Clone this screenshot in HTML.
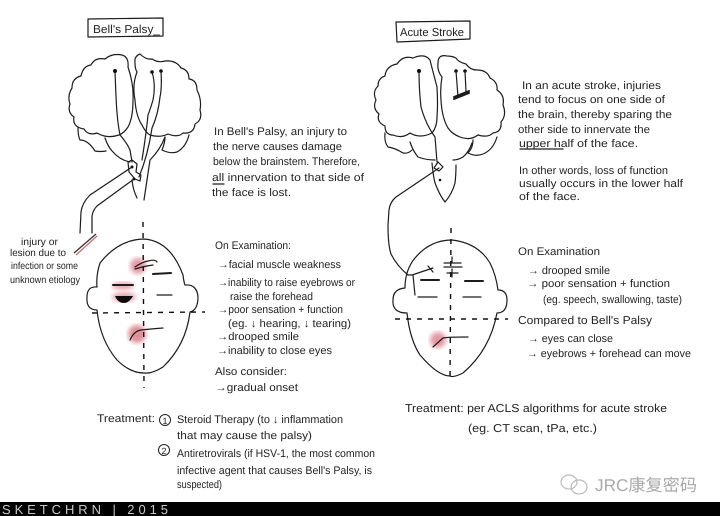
<!DOCTYPE html>
<html><head><meta charset="utf-8"><style>
html,body{margin:0;padding:0;background:#fff}
svg{display:block;font-size:11px}
text{font-family:"Liberation Sans","Noto Sans CJK SC",sans-serif;fill:#222;text-rendering:geometricPrecision}
.l{fill:none;stroke:#1c1c1c;stroke-width:1.2;stroke-linecap:round;stroke-linejoin:round}
.d{fill:none;stroke:#111;stroke-width:1.4;stroke-dasharray:5 6}
.t{fill:none;stroke:#1a1a1a;stroke-width:2;stroke-linecap:round}
</style></head><body>
<svg width="720" height="516" viewBox="0 0 720 516" xmlns="http://www.w3.org/2000/svg">
<defs><filter id="b"><feGaussianBlur stdDeviation="2.5"/></filter><filter id="s"><feGaussianBlur stdDeviation="0.3"/></filter></defs>
<rect width="720" height="516" fill="#fff"/>
<g filter="url(#s)">

<!-- LEFT -->
<path class="l" d="M88 19L163 18L163 36L88 37Z"/>
<text x="93" y="33" font-size="11.5" textLength="67" lengthAdjust="spacingAndGlyphs">Bell's Palsy_</text>
<path class="l" d="M119 135Q107 139 97 133Q88 136 84 129Q72 127 74 117Q67 112 70 104Q67 96 72 88Q72 78 81 76Q83 66 91 65Q95 57 105 59Q112 53 122 55Q129 57 128 67Q134 85 133 100Q133 118 128 127Q124 133 119 135Z"/>
<path class="l" d="M140 54Q134 56 135 63Q135 69 137 72Q132 85 135 100Q136 116 142 125Q146 133 150 135Q160 138 168 134Q178 138 183 133Q194 134 195 124Q203 120 200 110Q202 100 197 90Q197 80 189 79Q189 70 181 68Q176 60 165 61Q158 63 152 59Q146 60 140 54Z"/>
<path class="l" d="M78 128Q78 136 80 140Q88 140 95 151Q100 152 106 151"/>
<path class="l" d="M165 137Q165 143 162 150Q170 154 177 152Q186 147 189 135"/>
<path class="l" d="M105 138Q108 147 113 152Q120 160 130 162"/>
<path class="l" d="M165 137Q160 150 150 160Q147 180 144 200"/>
<path class="l" d="M132 180Q133 190 137 198"/>
<path class="l" d="M128 162L132 160L137 164L136 172L141 175L140 181L135 179L129 172Z"/>
<path class="l" d="M115 71Q116 100 117 113Q118 125 120 135Q127 143 130 150L132 162"/>
<path class="l" d="M152 72Q156 85 153 100Q150 110 148 115Q146 135 142 160"/>
<path class="l" d="M161 71Q162 88 160 97Q158 115 152 128Q148 155 139 177"/>
<circle cx="115" cy="71" r="2" fill="#111"/><circle cx="152" cy="72" r="1.8" fill="#111"/><circle cx="161" cy="71" r="1.8" fill="#111"/>
<circle cx="132" cy="167" r="1.5" fill="#111"/><circle cx="134" cy="179" r="1.5" fill="#111"/>
<path class="l" d="M132 167L90 195Q82 203 81 212L80 233"/>
<path class="l" d="M134 179Q112 195 97 206Q93 210 92 216L92 233"/>
<path d="M74 253L96 234" stroke="#333" stroke-width="1.3" fill="none"/><path d="M76 255L97 236" stroke="#c77" stroke-width="1.5" fill="none"/>

<text x="21" y="245" font-size="10" textLength="37" lengthAdjust="spacingAndGlyphs">injury or</text>
<text x="10" y="256" font-size="10" textLength="56" lengthAdjust="spacingAndGlyphs">lesion due to</text>
<text x="11" y="269" font-size="10" textLength="67" lengthAdjust="spacingAndGlyphs">infection or some</text>
<text x="10" y="283" font-size="10" textLength="70" lengthAdjust="spacingAndGlyphs">unknown etiology</text>

<circle cx="138" cy="266" r="8" fill="#e39aa2" filter="url(#b)"/>
<circle cx="137" cy="334" r="9" fill="#e08f98" filter="url(#b)"/>
<ellipse cx="123" cy="286" rx="11" ry="4" fill="#e9a9b0" filter="url(#b)"/>
<ellipse cx="124" cy="297" rx="12" ry="5" fill="#e9a9b0" filter="url(#b)"/>
<path class="l" d="M143 239Q170 240 183 275Q184 283 185 285Q197 284 198 297Q198 310 190 312Q186 345 163 367Q152 374 144 373Q130 373 117 360Q100 340 97 310Q86 310 87 297Q87 286 97 287Q96 275 100 263Q118 240 143 239Z"/>
<path class="d" d="M92 313L205 312"/>
<path class="d" d="M143 222L144 388"/>
<path class="l" d="M135 267Q142 262 148 261Q155 259 157 262"/>
<path class="l" d="M135 269Q145 266 153 265"/>
<path class="t" d="M153 274L171 273"/>
<path class="t" d="M113 285L133 285" stroke="#522"/>
<path d="M115 296L133 296Q129 303 124 303Q118 303 115 296Z" fill="#0c0c0c"/>
<path class="l" d="M157 295L172 295"/>
<path class="l" stroke-width="1.6" d="M130 340Q134 331 141 330Q150 329 163 328"/>

<text x="214" y="135" textLength="133" lengthAdjust="spacingAndGlyphs">In Bell's Palsy, an injury to</text>
<text x="213" y="150" textLength="129" lengthAdjust="spacingAndGlyphs">the nerve causes damage</text>
<text x="213" y="165" textLength="147" lengthAdjust="spacingAndGlyphs">below the brainstem. Therefore,</text>
<text x="212" y="181" textLength="152" lengthAdjust="spacingAndGlyphs">all innervation to that side of</text>
<text x="212" y="196" textLength="79" lengthAdjust="spacingAndGlyphs">the face is lost.</text>
<path class="l" d="M213 184L224 184" stroke-width=".8"/>

<text x="215" y="249" textLength="76" lengthAdjust="spacingAndGlyphs">On Examination:</text>
<text x="218" y="268" textLength="123" lengthAdjust="spacingAndGlyphs">→facial muscle weakness</text>
<text x="218" y="286" textLength="137" lengthAdjust="spacingAndGlyphs">→inability to raise eyebrows or</text>
<text x="230" y="300" textLength="83" lengthAdjust="spacingAndGlyphs">raise the forehead</text>
<text x="218" y="313" textLength="125" lengthAdjust="spacingAndGlyphs">→poor sensation + function</text>
<text x="228" y="327" textLength="123" lengthAdjust="spacingAndGlyphs">(eg. ↓ hearing, ↓ tearing)</text>
<text x="217" y="340" textLength="82" lengthAdjust="spacingAndGlyphs">→drooped smile</text>
<text x="217" y="354" textLength="115" lengthAdjust="spacingAndGlyphs">→inability to close eyes</text>
<text x="215" y="375" textLength="72" lengthAdjust="spacingAndGlyphs">Also consider:</text>
<text x="215" y="391" textLength="83" lengthAdjust="spacingAndGlyphs">→gradual onset</text>

<text x="97" y="422" textLength="58" lengthAdjust="spacingAndGlyphs">Treatment:</text>
<circle cx="165" cy="420" r="5.5" fill="none" stroke="#222"/><text x="162.5" y="424" font-size="9">1</text>
<text x="177" y="423" textLength="166" lengthAdjust="spacingAndGlyphs">Steroid Therapy (to ↓ inflammation</text>
<text x="177" y="439" textLength="135" lengthAdjust="spacingAndGlyphs">that may cause the palsy)</text>
<circle cx="164" cy="450" r="5.5" fill="none" stroke="#222"/><text x="161.5" y="454" font-size="9">2</text>
<text x="177" y="457" textLength="198" lengthAdjust="spacingAndGlyphs">Antiretrovirals (if HSV-1, the most common</text>
<text x="177" y="474" textLength="195" lengthAdjust="spacingAndGlyphs">infective agent that causes Bell's Palsy, is</text>
<text x="177" y="488" textLength="45" lengthAdjust="spacingAndGlyphs">suspected)</text>

<!-- RIGHT -->
<path class="l" d="M396 22L470 21L470 39L397 42Z"/>
<text x="400" y="36" font-size="11.5" textLength="64" lengthAdjust="spacingAndGlyphs">Acute Stroke</text>
<path class="l" d="M432 133Q420 139 410 133Q402 139 393 135Q385 135 385 126Q376 122 379 114Q372 108 376 100Q372 92 378 86Q378 78 385 76Q386 66 397 64Q403 55 413 58Q425 53 430 60Q433 72 437 87Q438 105 437 117Q437 127 432 133Z"/>
<path class="l" d="M447 56Q438 54 438 63Q437 71 442 77Q440 88 441 100Q442 118 448 128Q452 134 460 137Q470 141 478 135Q488 138 493 133Q502 132 501 122Q507 115 503 105Q505 95 497 90Q498 82 490 78Q487 70 477 70Q470 70 466 64Q458 62 456 58Q452 56 447 56Z"/>
<path class="l" d="M385 133Q384 142 388 147Q395 148 403 153Q408 154 412 150"/>
<path class="l" d="M473 140Q473 148 468 153Q476 157 483 154Q493 150 497 137"/>
<path class="l" d="M410 142Q413 151 418 157Q426 160 435 160"/>
<path class="l" d="M472 143Q469 152 463 157Q458 160 453 160"/>
<path class="l" d="M432 163Q433 175 435 183Q440 196 445 202Q452 194 455 183Q456 175 456 165"/>
<path class="l" d="M434 168L438 162L443 167L439 171Z"/>
<path class="l" d="M419 71Q419 90 421 107Q426 125 435 137Q436 150 437 162"/>
<circle cx="419" cy="71" r="2" fill="#111"/><circle cx="456" cy="71" r="1.8" fill="#111"/><circle cx="465" cy="71" r="1.8" fill="#111"/><circle cx="440" cy="180" r="1.3" fill="#111"/>
<path class="l" d="M456 71L458 97M465 71L466 92"/>
<path class="t" d="M454 99L469 93M454 97L469 91" stroke-width="1.4"/>
<path class="l" d="M439 168L396 197Q390 202 389 210L388 225Q388 245 391 254Q397 266 408 275"/>
<path class="l" d="M408 275L412 275L433 268M413 275L415 295M428 266L433 272"/>

<circle cx="438" cy="340" r="8" fill="#e39aa2" filter="url(#b)"/>
<path class="l" d="M452 240Q478 243 490 263Q496 275 498 290Q507 290 507 300Q507 313 497 313Q490 350 463 373Q453 378 450 376Q438 376 420 355Q410 340 407 313Q392 313 393 300Q393 289 405 288Q405 270 415 258Q430 240 452 240Z"/>
<path class="d" d="M395 319L508 319"/>
<path class="d" d="M451 228L450 382"/>
<path class="l" d="M444 263L461 263M444 267L462 267M447 273L458 273M452 257L452 263M452 269L452 277"/>
<path class="t" d="M421 280L439 280M465 281L483 281"/>
<path class="l" d="M418 297L437 297M463 297L481 297"/>
<path class="l" stroke-width="1.6" d="M433 347L443 338Q448 337 468 337"/>

<text x="522" y="89" textLength="139" lengthAdjust="spacingAndGlyphs">In an acute stroke, injuries</text>
<text x="518" y="103" textLength="147" lengthAdjust="spacingAndGlyphs">tend to focus on one side of</text>
<text x="518" y="118" textLength="154" lengthAdjust="spacingAndGlyphs">the brain, thereby sparing the</text>
<text x="518" y="133" textLength="132" lengthAdjust="spacingAndGlyphs">other side to innervate the</text>
<text x="519" y="147" textLength="119" lengthAdjust="spacingAndGlyphs">upper half of the face.</text>
<path class="l" d="M520 149L563 149" stroke-width=".8"/>
<text x="519" y="174" textLength="149" lengthAdjust="spacingAndGlyphs">In other words, loss of function</text>
<text x="519" y="187" textLength="164" lengthAdjust="spacingAndGlyphs">usually occurs in the lower half</text>
<text x="519" y="200" textLength="61" lengthAdjust="spacingAndGlyphs">of the face.</text>

<text x="518" y="255" textLength="82" lengthAdjust="spacingAndGlyphs">On Examination</text>
<text x="528" y="274" textLength="82" lengthAdjust="spacingAndGlyphs">→ drooped smile</text>
<text x="527" y="287" textLength="143" lengthAdjust="spacingAndGlyphs">→ poor sensation + function</text>
<text x="543" y="303" textLength="139" lengthAdjust="spacingAndGlyphs">(eg. speech, swallowing, taste)</text>
<text x="518" y="324" font-size="11.5" textLength="134" lengthAdjust="spacingAndGlyphs">Compared to Bell's Palsy</text>
<text x="528" y="342" textLength="85" lengthAdjust="spacingAndGlyphs">→ eyes can close</text>
<text x="527" y="357" textLength="164" lengthAdjust="spacingAndGlyphs">→ eyebrows + forehead can move</text>

<text x="405" y="412" font-size="11.5" textLength="262" lengthAdjust="spacingAndGlyphs">Treatment: per ACLS algorithms for acute stroke</text>
<text x="468" y="432" font-size="11.5" textLength="129" lengthAdjust="spacingAndGlyphs">(eg. CT scan, tPa, etc.)</text>

<!-- Watermark -->
<g fill="none" stroke="#bbb" stroke-width="1.2">
<ellipse cx="569" cy="482" rx="8" ry="7"/><ellipse cx="579" cy="487" rx="8" ry="7"/>
</g>
<text x="595" y="491" font-size="17" textLength="102" lengthAdjust="spacingAndGlyphs" style="fill:#aaa">JRC康复密码</text>
</g>

<!-- Footer -->
<rect x="0" y="502" width="720" height="14" fill="#000"/>
<text x="2" y="514" font-size="13" textLength="166" style="fill:#c8c8c8">SKETCHRN | 2015</text>
</svg>
</body></html>
